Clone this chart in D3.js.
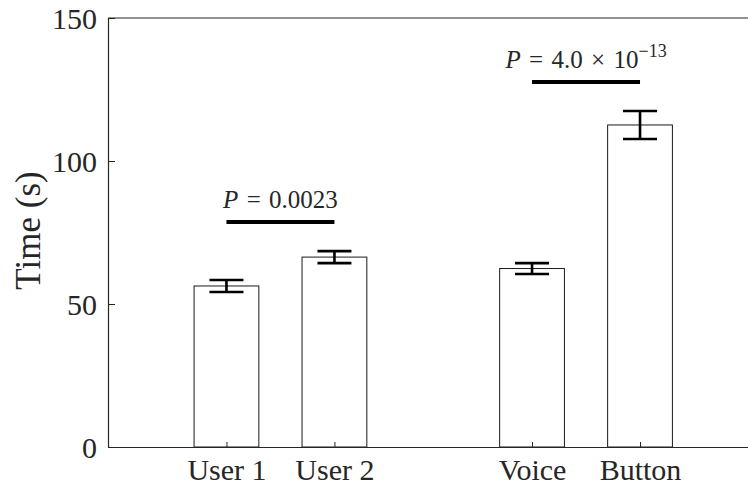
<!DOCTYPE html>
<html>
<head>
<meta charset="utf-8">
<script src="https://cdn.jsdelivr.net/npm/d3@7"></script>
<style>
  html, body { margin: 0; padding: 0; background: #fff; }
  svg text { font-family: "Liberation Serif", "Times New Roman", serif; fill: #262626; }
</style>
</head>
<body>
<svg id="chart" width="748" height="487"></svg>
<script>
// Completion time per condition (mean ± standard error)
const categories = ["User 1", "User 2", "Voice", "Button"];
const slots = [1, 2, 3.83, 4.83];          // x positions of the bars (gap between groups)
const means = [56.3, 66.4, 62.4, 112.6];
const errors = [2.1, 2.1, 1.9, 4.9];
const yTicks = [0, 50, 100, 150];
// significance brackets: pair of bar indices, bracket height, label parts
const sigPairs = [[0, 1], [2, 3]];
const sigHeights = [78.7, 127.6];
const sigMantissa = ["0.0023", "4.0\u2004×\u200410"];
const sigExponent = ["", "−13"];

(function draw() {
  const svg = d3.select("#chart");
  const mL = 108, mR = 748, mT = 18, mB = 447;

  const x = d3.scaleLinear().domain([-0.097, 5.83]).range([mL, mR]);
  const y = d3.scaleLinear().domain([0, 150]).range([mB, mT]);
  const barW = x(0.6) - x(0);
  const ink = "#262626";

  // bars
  svg.append("g").selectAll("rect").data(means).join("rect")
    .attr("x", (d, i) => x(slots[i]) - barW / 2)
    .attr("y", d => y(d))
    .attr("width", barW)
    .attr("height", d => y(0) - y(d))
    .attr("fill", "#fff")
    .attr("stroke", "#1a1a1a")
    .attr("stroke-width", 1);

  // error bars
  const capHalf = 17;
  const eb = svg.append("g").attr("stroke", "#000").attr("stroke-width", 2.6);
  means.forEach((m, i) => {
    const cx = x(slots[i]);
    eb.append("line").attr("x1", cx).attr("x2", cx).attr("y1", y(m - errors[i])).attr("y2", y(m + errors[i]));
    eb.append("line").attr("x1", cx - capHalf).attr("x2", cx + capHalf).attr("y1", y(m + errors[i])).attr("y2", y(m + errors[i]));
    eb.append("line").attr("x1", cx - capHalf).attr("x2", cx + capHalf).attr("y1", y(m - errors[i])).attr("y2", y(m - errors[i]));
  });

  // axes frame (left, bottom, top)
  const yAxis = d3.axisLeft(y).tickValues(yTicks).tickSizeInner(-7).tickSizeOuter(0).tickPadding(11);
  const gy = svg.append("g").attr("transform", `translate(${mL},0)`).call(yAxis);
  gy.select(".domain").attr("stroke", ink).attr("stroke-width", 1.2);
  gy.selectAll(".tick line").attr("stroke", ink);
  gy.selectAll(".tick text").attr("font-size", 30).attr("dy", "0.34em").style("fill", ink);

  const xAxis = d3.axisBottom(x).tickValues(slots).tickFormat((d, i) => categories[i])
    .tickSizeInner(-5).tickSizeOuter(0).tickPadding(12);
  const gx = svg.append("g").attr("transform", `translate(0,${mB})`).call(xAxis);
  gx.select(".domain").attr("stroke", ink).attr("stroke-width", 1.2);
  gx.selectAll(".tick line").attr("stroke", ink);
  gx.selectAll(".tick text").attr("font-size", 30).attr("dy", "0.7em").style("fill", ink);
  svg.selectAll("g").attr("font-family", null);

  svg.append("line").attr("x1", mL).attr("x2", mR).attr("y1", mT).attr("y2", mT)
    .attr("stroke", ink).attr("stroke-width", 1.2);

  // y label
  svg.append("text")
    .attr("transform", `translate(40,${(mT + mB) / 2 - 2}) rotate(-90)`)
    .attr("text-anchor", "middle")
    .attr("font-size", 35)
    .text("Time (s)");

  // significance brackets and P-value labels
  sigPairs.forEach((p, k) => {
    const x1 = x(slots[p[0]]), x2 = x(slots[p[1]]);
    const yy = y(sigHeights[k]);
    svg.append("line").attr("x1", x1).attr("x2", x2).attr("y1", yy).attr("y2", yy)
      .attr("stroke", "#000").attr("stroke-width", 4);
    const t = svg.append("text")
      .attr("x", (x1 + x2) / 2)
      .attr("y", yy - 14)
      .attr("text-anchor", "middle")
      .attr("font-size", 25);
    t.append("tspan").attr("font-style", "italic").text("P");
    t.append("tspan").text("\u2004=\u2004" + sigMantissa[k]);
    if (sigExponent[k]) {
      t.append("tspan").attr("font-size", 18).attr("dy", -11).text(sigExponent[k]);
    }
  });
})();
</script>
</body>
</html>
